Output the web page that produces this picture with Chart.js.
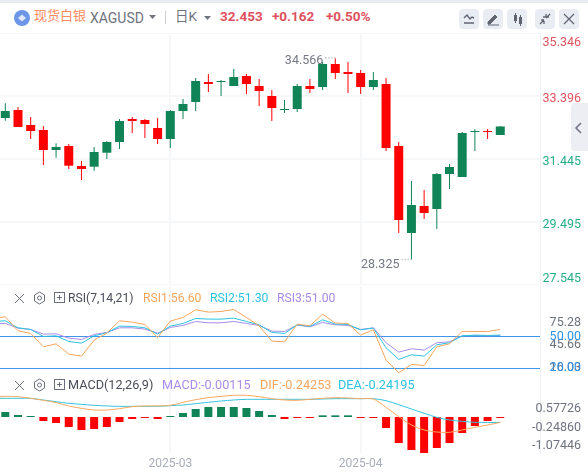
<!DOCTYPE html>
<html>
<head>
<meta charset="utf-8">
<script src="https://cdn.jsdelivr.net/npm/chart.js@4"></script>
<style>
html, body { margin: 0; padding: 0; background: #fff; overflow: hidden; }
body { width: 588px; height: 475px; position: relative; font-family: Roboto, "Noto Sans CJK SC", sans-serif; }
canvas { position: absolute; left: 0; }
.t { position: absolute; white-space: nowrap; line-height: 16px; z-index: 3; }
.ic { position: absolute; z-index: 3; }
.btn { position: absolute; top: 9px; width: 20px; height: 20px; border-radius: 4px; background: #e9ecf3; }
</style>
</head>
<body>
<div style="position:absolute;left:0;top:0;width:588px;height:3px;background:#e8ebf1"></div>
<svg class="ic" style="left:14px;top:10px" width="16" height="16"><circle cx="8" cy="8" r="8" fill="#6d96e8"/><path d="M4 8l4-3.5L12 8l-4 3.5z" fill="#dfe8fb"/></svg>
<span class="t" style="left:34px;top:8px;font-size:13px;color:#fb8a5e">现货白银</span>
<span class="t" style="left:90px;top:10px;font-size:14px;color:#6f7380">XAGUSD</span>
<svg class="ic" style="left:149px;top:15px" width="7" height="4"><path d="M0 0h7L3.5 4z" fill="#70747f"/></svg>
<div style="position:absolute;left:165px;top:11px;width:1px;height:13px;background:#c9ccd4"></div>
<span class="t" style="left:175px;top:8px;font-size:13.5px;color:#6f7380">日K</span>
<svg class="ic" style="left:204px;top:16px" width="7" height="4"><path d="M0 0h7L3.5 4z" fill="#70747f"/></svg>
<span class="t" style="left:220px;top:8px;font-size:13.5px;font-weight:700;color:#df5160">32.453</span>
<span class="t" style="left:272px;top:8px;font-size:13.5px;font-weight:700;color:#df5160">+0.162</span>
<span class="t" style="left:326px;top:8px;font-size:13.5px;font-weight:700;color:#df5160">+0.50%</span>

<div class="btn" style="left:459px"><svg width="20" height="20"><path d="M5 9l3-3 3 4 2-2 2 1M5 14h10" fill="none" stroke="#5f6470" stroke-width="1.4"/></svg></div>
<div class="btn" style="left:483px"><svg width="20" height="20"><path d="M5 13l7-7 2 2-7 7H5zM5 16h11" fill="#5f6470" stroke="#5f6470"/></svg></div>
<div class="btn" style="left:507px"><svg width="20" height="20"><path d="M7 6h3v6H7zM12 8h3v7h-3z" fill="#5f6470"/><path d="M8.5 4v10M13.5 6v11" stroke="#5f6470"/></svg></div>
<div class="btn" style="left:535px"><svg width="20" height="20"><path d="M5 15l4-4M15 5l-4 4M8 8h3V5M9 12v3M9 11H6M12 8h2" fill="none" stroke="#5f6470" stroke-width="1.3"/></svg></div>
<div class="btn" style="left:559px"><svg width="20" height="20"><path d="M5 5l10 10M15 5L5 15" stroke="#5f6470" stroke-width="1.2"/></svg></div>

<div style="position:absolute;left:571px;top:103px;width:17px;height:48px;border-radius:4px 0 0 4px;background:#eceef4;z-index:3"></div>
<svg class="ic" style="left:575px;top:122px;z-index:4" width="8" height="12"><path d="M6 1L1 6l5 5" fill="none" stroke="#6b6f7b" stroke-width="1.5"/></svg>

<canvas id="priceChart" style="top:33px"></canvas>
<canvas id="rsiChart" style="top:286px"></canvas>
<canvas id="macdChart" style="top:373px"></canvas>

<script>
var opens = [32.715,32.962,32.498,32.343,31.724,31.848,31.229,31.207,31.640,31.972,32.684,32.653,32.405,32.065,32.931,33.210,33.829,33.829,33.705,34.015,33.705,33.396,32.962,32.993,33.705,33.674,34.387,34.139,34.108,33.674,33.767,31.848,29.154,29.990,29.897,30.981,30.888,32.281,32.312,32.188];
var highs = [33.170,33.055,32.746,32.467,31.932,31.910,31.383,31.817,32.003,32.684,32.746,32.684,32.715,32.962,33.303,33.953,34.077,33.891,34.232,34.077,33.922,33.582,33.272,33.767,33.922,34.448,34.566,34.448,34.201,34.139,33.953,31.972,30.764,30.486,31.012,31.291,32.281,32.374,32.374,32.467];
var lows = [32.632,32.436,32.065,31.260,31.486,31.136,30.795,31.083,31.445,31.755,32.250,32.096,31.910,31.786,32.684,32.931,33.520,33.396,33.705,33.458,33.086,32.622,32.870,32.900,33.489,33.582,33.922,33.489,33.458,33.582,31.693,29.154,28.325,29.588,29.278,30.517,30.888,31.693,32.065,32.188];
var closes = [32.931,32.436,32.312,31.724,31.817,31.238,31.136,31.662,31.972,32.622,32.622,32.529,32.065,32.931,33.148,33.860,33.767,33.860,33.984,33.767,33.551,33.024,32.993,33.705,33.613,34.387,34.108,34.077,33.674,33.891,31.786,29.557,30.021,29.774,30.981,31.198,32.250,32.312,32.281,32.453];

// indicator arrays start one day before the first visible candle
var rsi1 = [66.92,68.48,55.36,52.86,40.36,43.17,33.48,31.61,46.61,53.17,64.73,63.48,61.30,49.11,64.42,67.86,75.04,72.86,73.48,75.28,67.86,60.05,45.67,45.05,61.61,60.05,70.98,62.54,62.23,51.30,56.30,27.86,16.03,23.79,22.86,40.36,43.17,54.73,54.73,54.73,56.60];
var rsi2 = [64.10,64.73,58.17,56.60,50.04,50.67,45.36,43.79,50.67,53.48,59.73,59.42,58.17,52.23,59.73,62.23,66.92,66.30,66.30,67.23,64.10,60.98,53.80,52.86,60.98,59.42,65.67,61.61,61.30,56.30,57.86,39.42,28.48,32.86,31.61,42.23,44.11,50.67,51.30,50.98,51.30];
var rsi3 = [61.92,62.23,57.86,56.60,52.23,52.54,48.48,47.23,51.92,53.80,58.17,58.17,56.92,53.17,58.48,60.36,64.10,62.86,62.86,64.10,62.23,60.36,55.04,54.73,60.67,59.11,63.17,60.98,60.36,56.60,58.17,44.11,35.36,38.48,37.23,44.11,45.05,50.67,50.98,50.67,51.00];
var macdHist = [0.223,0.089,0.02,-0.179,-0.268,-0.446,-0.580,-0.536,-0.446,-0.223,-0.089,-0.045,-0.089,0.03,0.179,0.357,0.446,0.446,0.446,0.402,0.268,0.089,-0.089,-0.045,-0.045,0.074,0.074,0.074,-0.045,-0.045,-0.491,-1.161,-1.473,-1.607,-1.384,-1.161,-0.714,-0.402,-0.179,-0.00115];
var dif = [0.908,0.923,0.908,0.833,0.744,0.640,0.491,0.387,0.312,0.312,0.372,0.461,0.491,0.491,0.521,0.655,0.774,0.863,0.923,0.967,0.967,0.908,0.818,0.759,0.744,0.789,0.833,0.863,0.848,0.818,0.804,0.432,0.015,-0.357,-0.580,-0.670,-0.684,-0.580,-0.461,-0.357,-0.24253];
var dea = [0.833,0.833,0.833,0.833,0.759,0.684,0.610,0.565,0.521,0.491,0.476,0.476,0.476,0.476,0.506,0.536,0.595,0.655,0.714,0.759,0.789,0.789,0.789,0.789,0.789,0.789,0.804,0.818,0.818,0.818,0.818,0.729,0.551,0.357,0.164,-0.015,-0.134,-0.193,-0.238,-0.24195,-0.24195];

var priceTicks = [35.346,33.396,31.445,29.495,27.545];
var priceTickLabels = ['35.346','33.396','31.445','29.495','27.545'];
var rsiTicks = [75.28,45.66,16.03];
var rsiTickLabels = ['75.28','45.66','16.03'];
var rsiLevels = [50,20];
var rsiLevelLabels = ['50.00','20.00'];
var macdTicks = [0.57726,-0.24860,-1.07446];
var macdTickLabels = ['0.57726','-0.24860','-1.07446'];
var monthIndexes = [13,28];
var monthLabels = ['2025-03','2025-04'];

var RED = '#ff0000', GREEN = '#108457', GRID = '#f6f7f8';
var XMIN = -0.418, XMAX = 42.13;
var FONT = 'Roboto, "Noto Sans CJK SC", sans-serif';

function days(arr, shift) {
    return arr.map(function (v, i) { return { x: i + shift, y: v }; });
}

// right side labels, kept inside the pane like the source chart does
var axisLabels = {
    id: 'axisLabels',
    afterDraw: function (chart, args, o) {
        var ctx = chart.ctx, y = chart.scales.y, a = chart.chartArea;
        ctx.save();
        ctx.textBaseline = 'middle';
        ctx.textAlign = 'right';
        ctx.font = '12.5px ' + FONT;
        (o.items || []).forEach(function (it) {
            var py = y.getPixelForValue(it.value) + o.dy;
            py = Math.max(a.top + o.minY, Math.min(a.top + o.maxY, py));
            ctx.fillStyle = it.color;
            ctx.fillText(it.text, 581, py);
        });
        ctx.restore();
    }
};

// high and low markers on the price pane
var extremes = {
    id: 'extremes',
    afterDatasetsDraw: function (chart, args, o) {
        if (!o.items) return;
        var ctx = chart.ctx;
        ctx.save();
        ctx.font = '12.5px ' + FONT;
        ctx.textBaseline = 'middle';
        ctx.textAlign = 'right';
        o.items.forEach(function (it) {
            var px = chart.scales.x.getPixelForValue(it.index);
            var py = chart.scales.y.getPixelForValue(it.value);
            ctx.fillStyle = '#bfc2ca';
            for (var k = 0; k < 4; k++) ctx.fillRect(px - 1 - k * 3, py - 1, 1.4, 1.4);
            ctx.fillStyle = '#757885';
            ctx.fillText(it.value.toFixed(3), px - 12, py + it.dy);
        });
        ctx.restore();
    }
};

function paneOptions(yMin, yMax, yTicks, showDates, plugins) {
    return {
        responsive: false,
        animation: false,
        layout: { padding: 0 },
        events: [],
        plugins: Object.assign({ legend: { display: false }, tooltip: { enabled: false } }, plugins),
        scales: {
            x: {
                type: 'linear',
                offset: false,
                min: XMIN,
                max: XMAX,
                afterBuildTicks: function (axis) {
                    axis.ticks = monthIndexes.map(function (v) { return { value: v }; });
                },
                afterFit: function (axis) { axis.height = showDates ? 22 : 0; },
                border: { display: false },
                grid: { offset: false, color: GRID, lineWidth: 2, drawTicks: false },
                ticks: {
                    display: showDates,
                    maxRotation: 0,
                    padding: 4,
                    color: '#a9adb8',
                    font: { size: 12, family: FONT },
                    callback: function (v) { return monthLabels[monthIndexes.indexOf(v)]; }
                }
            },
            y: {
                position: 'right',
                min: yMin,
                max: yMax,
                afterBuildTicks: function (axis) {
                    axis.ticks = yTicks.map(function (v) { return { value: v }; });
                },
                afterFit: function (axis) { axis.width = 48; },
                border: { display: true, color: '#eef0f3' },
                grid: { color: GRID, lineWidth: 2, drawTicks: false },
                ticks: { display: false }
            }
        }
    };
}

function sizeCanvas(id, h) {
    var c = document.getElementById(id);
    c.width = 588;
    c.height = h;
    return c;
}

function isUp(i) { return closes[i] >= opens[i]; }

new Chart(sizeCanvas('priceChart', 252), {
    type: 'bar',
    plugins: [axisLabels, extremes],
    data: {
        datasets: [{
            order: 2,
            barThickness: 1,
            grouped: false,
            inflateAmount: 0,
            data: highs.map(function (h, i) { return { x: i, y: [lows[i], h] }; }),
            backgroundColor: closes.map(function (c, i) { return isUp(i) ? GREEN : RED; })
        }, {
            order: 1,
            barThickness: 9,
            grouped: false,
            minBarLength: 1,
            inflateAmount: 0,
            data: opens.map(function (o, i) { return { x: i, y: [o, closes[i]] }; }),
            backgroundColor: closes.map(function (c, i) { return isUp(i) ? GREEN : RED; })
        }]
    },
    options: paneOptions(27.545, 35.346, priceTicks, false, {
        axisLabels: {
            dy: 3, minY: 9.5, maxY: 245.5,
            items: priceTicks.map(function (v, i) {
                return { value: v, text: priceTickLabels[i], color: i < 2 ? '#e2545f' : '#27ad8a' };
            })
        },
        extremes: {
            items: [
                { index: highs.indexOf(Math.max.apply(null, highs)), value: Math.max.apply(null, highs), dy: 3 },
                { index: lows.indexOf(Math.min.apply(null, lows)), value: Math.min.apply(null, lows), dy: 5.5 }
            ]
        }
    })
});

function lineSet(arr, color, tension) {
    return {
        type: 'line',
        data: days(arr, -1),
        borderColor: color,
        borderWidth: 1,
        pointRadius: 0,
        tension: tension,
        order: 1
    };
}

function levelSet(v) {
    return {
        type: 'line',
        data: [{ x: XMIN, y: v }, { x: XMAX, y: v }],
        borderColor: '#3f96e8',
        borderWidth: 1,
        pointRadius: 0,
        order: 2
    };
}

new Chart(sizeCanvas('rsiChart', 87), {
    type: 'line',
    plugins: [axisLabels],
    data: {
        datasets: [
            lineSet(rsi1, '#f6a65f', 0),
            lineSet(rsi2, '#2cc3df', 0),
            lineSet(rsi3, '#a88ce8', 0),
            levelSet(rsiLevels[0]),
            levelSet(rsiLevels[1])
        ]
    },
    options: paneOptions(15.78, 97.35, [], false, {
        axisLabels: {
            dy: 3.5, minY: 36.5, maxY: 81.5,
            items: rsiTicks.map(function (v, i) {
                return { value: v, text: rsiTickLabels[i], color: '#6f7380' };
            }).concat(rsiLevels.map(function (v, i) {
                return { value: v + 3.5 * 0.938, text: rsiLevelLabels[i], color: '#2f93ea' };
            }))
        }
    })
});

new Chart(sizeCanvas('macdChart', 102), {
    type: 'bar',
    plugins: [axisLabels],
    data: {
        datasets: [
            lineSet(dif, '#f9a862', 0.3),
            lineSet(dea, '#33c4de', 0.3),
            {
                order: 2,
                barThickness: 8,
                grouped: false,
                minBarLength: 1,
                inflateAmount: 0,
                data: days(macdHist, 0),
                backgroundColor: macdHist.map(function (v) { return v >= 0 ? GREEN : RED; })
            }
        ]
    },
    options: paneOptions(-1.607, 1.964, [], true, {
        axisLabels: {
            dy: 5, minY: 0, maxY: 79.5,
            items: macdTicks.map(function (v, i) {
                return { value: v, text: macdTickLabels[i], color: '#6f7380' };
            })
        }
    })
});

// title rows of the two indicator panes
function indicatorRow(top, fontSize, parts) {
    var icons = '<path d="M15 ' + (top - 4) + 'l9 9M24 ' + (top - 4) + 'l-9 9" stroke="#6b6f7b" stroke-width="1" fill="none"/>' +
        '<path d="M39.5 ' + (top - 6) + 'l5 3v6l-5 3-5-3v-6z" fill="none" stroke="#6b6f7b"/><circle cx="39.5" cy="' + top + '" r="2" fill="none" stroke="#6b6f7b"/>' +
        '<rect x="54.5" y="' + (top - 5.5) + '" width="10" height="10" fill="none" stroke="#6b6f7b"/><path d="M57 ' + (top - .5) + 'h5M59.5 ' + (top - 3) + 'v5" stroke="#6b6f7b"/>';
    var svg = document.createElementNS('http://www.w3.org/2000/svg', 'svg');
    svg.setAttribute('class', 'ic');
    svg.setAttribute('width', '70');
    svg.setAttribute('height', '475');
    svg.style.left = '0px';
    svg.style.top = '0px';
    svg.innerHTML = icons;
    document.body.appendChild(svg);
    parts.forEach(function (p) {
        var s = document.createElement('span');
        s.className = 't';
        s.textContent = p[0];
        s.style.left = p[1] + 'px';
        s.style.top = (top - 8) + 'px';
        s.style.fontSize = fontSize + 'px';
        s.style.color = p[2];
        document.body.appendChild(s);
    });
}
indicatorRow(298, 12.2, [
    ['RSI(7,14,21)', 68, '#4a4d57'],
    ['RSI1:56.60', 143, '#f6a65f'],
    ['RSI2:51.30', 210, '#2cc3df'],
    ['RSI3:51.00', 277, '#a88ce8']
]);
indicatorRow(385, 12.7, [
    ['MACD(12,26,9)', 68, '#4a4d57'],
    ['MACD:-0.00115', 162, '#a88ce8'],
    ['DIF:-0.24253', 260, '#f6a65f'],
    ['DEA:-0.24195', 338, '#2cc3df']
]);
</script>
</body>
</html>
